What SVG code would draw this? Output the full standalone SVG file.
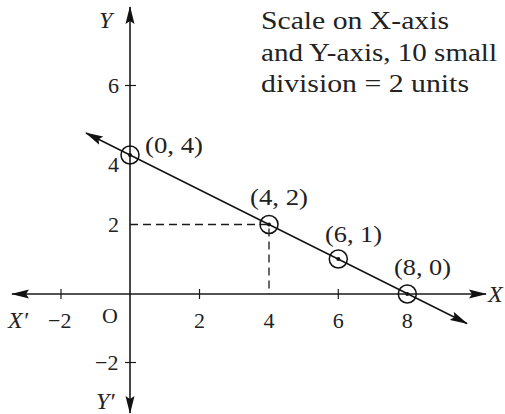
<svg xmlns="http://www.w3.org/2000/svg" width="505" height="414" viewBox="0 0 505 414" font-family="'Liberation Serif', 'Times New Roman', Times, serif">
<defs>
<marker id="ah" viewBox="0 0 18 10" refX="17" refY="5" markerWidth="18" markerHeight="10" markerUnits="userSpaceOnUse" orient="auto">
<path d="M0,0.5 L18,5 L0,9.5 L3,5 Z" fill="#111"/>
</marker>
<style>
.ax{stroke:#1a1a1a;stroke-width:1.6;fill:none}
.tk{stroke:#1a1a1a;stroke-width:1.2}
.ds{stroke:#1a1a1a;stroke-width:1.3;stroke-dasharray:8,5;fill:none}
.ln{stroke:#111;stroke-width:1.5;fill:none}
.pc{stroke:#111;stroke-width:1.5;fill:none}
.pd{fill:#111}
text{fill:#222;font-family:"Liberation Serif","Times New Roman",Times,serif}
.n{font-size:22px}
.c{font-size:23px}
.it{font-size:24px;font-style:italic}
.nt{font-size:25px}
</style>
</defs>
<g id="axes">
<line class="ax" x1="130" y1="294" x2="12" y2="294" marker-end="url(#ah)"/>
<line class="ax" x1="130" y1="294" x2="486" y2="294" marker-end="url(#ah)"/>
<line class="ax" x1="130" y1="294" x2="130" y2="7" marker-end="url(#ah)"/>
<line class="ax" x1="130" y1="294" x2="130" y2="413" marker-end="url(#ah)"/>
<line class="tk" x1="61" y1="289" x2="61" y2="299"/>
<line class="tk" x1="199.5" y1="289" x2="199.5" y2="299"/>
<line class="tk" x1="338.3" y1="289" x2="338.3" y2="299"/>
<line class="tk" x1="125" y1="85.5" x2="136" y2="85.5"/>
<line class="tk" x1="125" y1="362.5" x2="136" y2="362.5"/>
</g>
<g id="connectors">
<polyline class="ds" points="130,224.5 269,224.5 269,294"/>
<line class="ln" x1="130" y1="155" x2="86" y2="133" marker-end="url(#ah)"/>
<line class="ln" x1="130" y1="155" x2="467" y2="323.5" marker-end="url(#ah)"/>
</g>
<g id="p04"><circle class="pc" cx="130" cy="155" r="9"/><circle class="pd" cx="130" cy="155" r="2"/></g>
<g id="p42"><circle class="pc" cx="269" cy="224.5" r="9"/><circle class="pd" cx="269" cy="224.5" r="2"/></g>
<g id="p61"><circle class="pc" cx="338.3" cy="259" r="9"/><circle class="pd" cx="338.3" cy="259" r="2"/></g>
<g id="p80"><circle class="pc" cx="407.3" cy="294" r="9"/><circle class="pd" cx="407.3" cy="294" r="2"/></g>
<g id="labels">
<text class="it" x="99" y="28">Y</text>
<text class="it" x="488" y="302">X</text>
<text class="it" x="8" y="328">X′</text>
<text class="it" x="96" y="409">Y′</text>
<text class="n" x="108" y="93">6</text>
<text class="n" x="108" y="172">4</text>
<text class="n" x="108" y="232">2</text>
<text class="n" x="95" y="370">−2</text>
<text class="n" x="48" y="328">−2</text>
<text class="n" x="102" y="323">O</text>
<text class="n" x="194" y="328">2</text>
<text class="n" x="263.5" y="328">4</text>
<text class="n" x="332.8" y="328">6</text>
<text class="n" x="401.8" y="328">8</text>
<text class="c" x="145" y="153" textLength="58" lengthAdjust="spacingAndGlyphs">(0, 4)</text>
<text class="c" x="250" y="205" textLength="58" lengthAdjust="spacingAndGlyphs">(4, 2)</text>
<text class="c" x="325" y="242" textLength="57" lengthAdjust="spacingAndGlyphs">(6, 1)</text>
<text class="c" x="394" y="275" textLength="57" lengthAdjust="spacingAndGlyphs">(8, 0)</text>
<text class="nt" x="261" y="29" textLength="188" lengthAdjust="spacingAndGlyphs">Scale on X-axis</text>
<text class="nt" x="261" y="61" textLength="236" lengthAdjust="spacingAndGlyphs">and Y-axis, 10 small</text>
<text class="nt" x="261" y="92" textLength="208" lengthAdjust="spacingAndGlyphs">division = 2 units</text>
</g>
</svg>
